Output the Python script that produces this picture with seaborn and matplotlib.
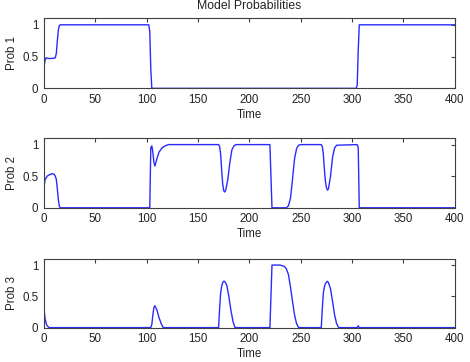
import matplotlib
matplotlib.use("Agg")
import matplotlib.pyplot as plt
import seaborn as sns

# values
time1 = [0, 1, 2, 4, 8, 11, 12, 13, 14, 15, 16, 102, 103, 104, 105,
         304, 305, 306, 307, 400]
prob1 = [0.34, 0.44, 0.48, 0.47, 0.47, 0.48, 0.55, 0.75, 0.92, 0.99, 1.0, 1.0, 0.9, 0.3, 0.0,
         0.0, 0.05, 0.6, 1.0, 1.0]

time2 = [0, 1, 3, 5, 8, 10, 11, 12, 13, 14, 15, 16,
         103, 104, 105, 106, 107, 108, 110, 112, 115, 118, 121,
         170, 171, 172, 173, 174, 175, 176, 177, 179, 181, 183, 185, 187,
         220, 221, 222, 236, 238, 240, 242, 244, 246, 248, 250,
         270, 271, 272, 273, 274, 275, 276, 277, 279, 281, 283, 285,
         305, 306, 307, 400]
prob2 = [0.33, 0.44, 0.5, 0.52, 0.54, 0.53, 0.5, 0.45, 0.3, 0.12, 0.02, 0.0,
         0.0, 0.95, 0.98, 0.88, 0.72, 0.66, 0.78, 0.88, 0.95, 0.98, 1.0,
         1.0, 0.97, 0.85, 0.6, 0.38, 0.27, 0.25, 0.28, 0.45, 0.72, 0.92, 0.98, 1.0,
         1.0, 0.5, 0.0, 0.0, 0.03, 0.15, 0.45, 0.78, 0.94, 0.99, 1.0,
         1.0, 0.97, 0.85, 0.62, 0.42, 0.32, 0.28, 0.3, 0.5, 0.8, 0.95, 0.99,
         1.0, 0.95, 0.0, 0.0]

time3 = [0, 1, 2, 3, 5,
         104, 105, 106, 107, 108, 110, 112, 114, 116,
         170, 171, 172, 173, 174, 175, 176, 178, 180, 182, 184, 186,
         220, 221, 222, 226, 230, 234, 236, 238, 240, 242, 244, 246, 248,
         270, 271, 272, 273, 274, 275, 276, 277, 279, 281, 283, 285, 287,
         305, 306, 307, 400]
prob3 = [0.3, 0.15, 0.07, 0.03, 0.0,
         0.0, 0.05, 0.2, 0.32, 0.35, 0.28, 0.16, 0.07, 0.0,
         0.0, 0.3, 0.55, 0.66, 0.72, 0.74, 0.74, 0.68, 0.5, 0.28, 0.1, 0.0,
         0.0, 0.5, 1.0, 1.0, 1.0, 0.98, 0.94, 0.85, 0.65, 0.42, 0.2, 0.06, 0.0,
         0.0, 0.3, 0.55, 0.65, 0.7, 0.73, 0.74, 0.72, 0.62, 0.42, 0.2, 0.06, 0.0,
         0.0, 0.03, 0.0, 0.0]

series = [(time1, prob1, "Prob 1"), (time2, prob2, "Prob 2"), (time3, prob3, "Prob 3")]
x_ticks = [0, 50, 100, 150, 200, 250, 300, 350, 400]
y_ticks = [0, 0.5, 1]
y_labels = ["0", "0.5", "1"]

sns.set_style("white")
plt.rcParams['font.family'] = ['Liberation Sans', 'DejaVu Sans']
plt.rcParams['font.size'] = 8.3
plt.rcParams['text.color'] = '#222222'
plt.rcParams['axes.labelcolor'] = '#222222'

fig = plt.figure(figsize=(4.70, 3.62), dpi=100)
boxes = [[0.0936, 0.756, 0.874, 0.193],
         [0.0936, 0.426, 0.874, 0.192],
         [0.0936, 0.095, 0.874, 0.190]]

for i, (t, p, name) in enumerate(series):
    ax = fig.add_axes(boxes[i])
    sns.lineplot(x=t, y=p, ax=ax, color='#2a2aff', linewidth=1.0)
    ax.set_xlim(0, 400)
    ax.set_ylim(0, 1.1)
    ax.set_xticks(x_ticks)
    ax.set_yticks(y_ticks)
    ax.set_yticklabels(y_labels)
    ax.set_xlabel("Time", labelpad=2)
    ax.set_ylabel(name, labelpad=3)
    ax.tick_params(direction='in', length=3, width=0.8, color='#404040',
                   top=True, right=True, labelsize=8.3, pad=4, labelcolor='#222222')
    for s in ax.spines.values():
        s.set_color('#404040')
        s.set_linewidth(0.8)
    if i == 0:
        ax.set_title("Model Probabilities", fontsize=8.8, pad=7)

fig.savefig("out.png", dpi=100)
